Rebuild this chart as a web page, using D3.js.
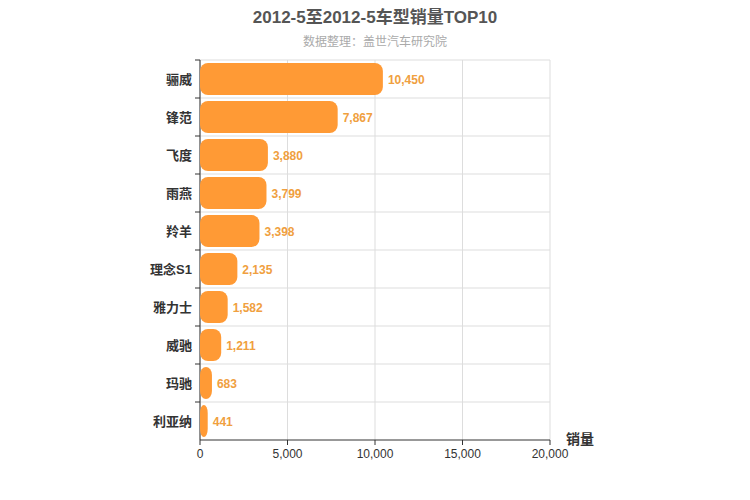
<!DOCTYPE html>
<html><head><meta charset="utf-8">
<script src="https://cdn.jsdelivr.net/npm/d3@7"></script>
<style>body{margin:0;background:#fff}text{font-family:"Liberation Sans","Noto Sans CJK SC",Arial,sans-serif}</style>
</head><body><svg id="c" width="750" height="500"></svg>
<script>
const categories=["骊威","锋范","飞度","雨燕","羚羊","理念S1","雅力士","威驰","玛驰","利亚纳"];
const values=[10450,7867,3880,3799,3398,2135,1582,1211,683,441];
const xTicks=[0,5000,10000,15000,20000];
const svg=d3.select("#c");
const L=200,R=550,T=60,B=440;
const x=d3.scaleLinear().domain([0,20000]).range([L,R]);
const y=d3.scaleBand().domain(categories).range([T,B]);
const fmt=d3.format(",");
svg.append("text").attr("x",375).attr("y",23).attr("text-anchor","middle").attr("font-size",17).attr("font-weight","bold").attr("fill","#555").text("2012-5至2012-5车型销量TOP10");
svg.append("text").attr("x",375).attr("y",46).attr("text-anchor","middle").attr("font-size",12).attr("fill","#aaa").text("数据整理：盖世汽车研究院");
xTicks.forEach(t=>{svg.append("line").attr("x1",x(t)).attr("x2",x(t)).attr("y1",T).attr("y2",B).attr("stroke","#ddd");});
categories.forEach((c,i)=>{svg.append("line").attr("x1",L).attr("x2",R).attr("y1",y(c)).attr("y2",y(c)).attr("stroke","#ddd");});
svg.append("line").attr("x1",L).attr("x2",R).attr("y1",B).attr("y2",B).attr("stroke","#333");
svg.append("line").attr("x1",L).attr("x2",L).attr("y1",T).attr("y2",B).attr("stroke","#333");
xTicks.forEach(t=>{svg.append("line").attr("x1",x(t)).attr("x2",x(t)).attr("y1",B).attr("y2",B+5).attr("stroke","#333");
svg.append("text").attr("x",x(t)).attr("y",B+18).attr("text-anchor","middle").attr("font-size",12).attr("fill","#333").text(fmt(t));});
categories.forEach((c,i)=>{
 const yc=y(c)+y.bandwidth()/2;
 svg.append("line").attr("x1",L-5).attr("x2",L).attr("y1",y(c)).attr("y2",y(c)).attr("stroke","#333");
 svg.append("text").attr("x",L-8).attr("y",yc+5).attr("text-anchor","end").attr("font-size",13).attr("font-weight","bold").attr("fill","#333").text(c);
 svg.append("rect").attr("x",L).attr("y",y(c)+3).attr("width",x(values[i])-L).attr("height",y.bandwidth()-6).attr("rx",8).attr("fill","#ff9a35");
 svg.append("text").attr("x",x(values[i])+5).attr("y",yc+5).attr("font-size",12).attr("font-weight","bold").attr("fill","#f0a040").text(fmt(values[i]));
});
svg.append("text").attr("x",580).attr("y",444).attr("text-anchor","middle").attr("font-size",14).attr("font-weight","bold").attr("fill","#333").text("销量");
</script></body></html>
